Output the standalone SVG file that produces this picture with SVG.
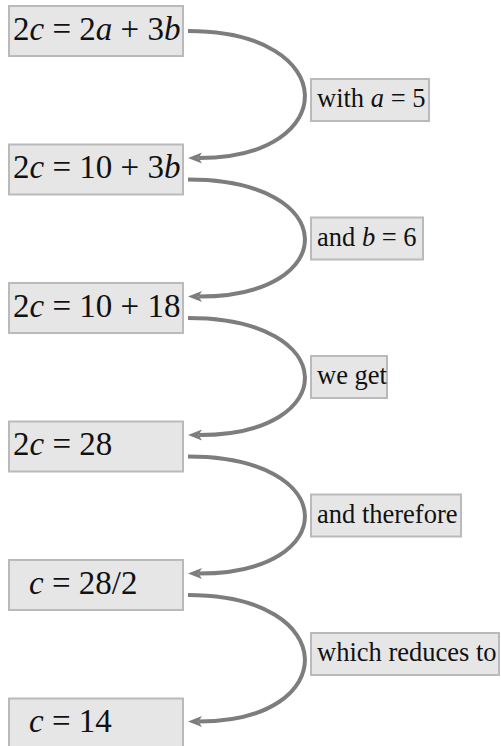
<svg xmlns="http://www.w3.org/2000/svg" width="501" height="746" viewBox="0 0 501 746">
<style>
.box{fill:#e6e6e6;stroke:#bababa;stroke-width:2}
.main{font-family:"Liberation Serif","Times New Roman",serif;font-size:33px;fill:#111}
.lab{font-family:"Liberation Serif","Times New Roman",serif;font-size:26.5px;fill:#111}
.i{font-style:italic}
.edge{fill:none;stroke:#7d7d7d;stroke-width:4}
</style>
<defs>
<marker id="arr" markerUnits="userSpaceOnUse" markerWidth="16" markerHeight="13" viewBox="0 0 16 13" refX="4" refY="6.5" orient="auto">
<path d="M1,1 L15,6.5 L1,12 L4.5,6.5 z" fill="#7d7d7d"/>
</marker>
</defs>
<rect width="501" height="746" fill="#ffffff"/>
<g id="connectors">
<path class="edge" marker-end="url(#arr)" d="M188,31 C342,31 342,158 199,158"/>
<path class="edge" marker-end="url(#arr)" d="M188,179.5 C342,179.5 342,296.5 199,296.5"/>
<path class="edge" marker-end="url(#arr)" d="M188,318 C342,318 342,435 199,435"/>
<path class="edge" marker-end="url(#arr)" d="M188,456.5 C342,456.5 342,573.5 199,573.5"/>
<path class="edge" marker-end="url(#arr)" d="M188,595 C342,595 342,721.5 199,721.5"/>
</g>
<g id="n1"><rect class="box" x="9" y="6" width="174" height="50"/><text class="main" x="13" y="39.5">2<tspan class="i">c</tspan> = 2<tspan class="i">a</tspan> + 3<tspan class="i">b</tspan></text></g>
<g id="n2"><rect class="box" x="9" y="144.5" width="174" height="50"/><text class="main" x="13" y="178">2<tspan class="i">c</tspan> = 10 + 3<tspan class="i">b</tspan></text></g>
<g id="n3"><rect class="box" x="9" y="283" width="174" height="50"/><text class="main" x="13" y="316.5">2<tspan class="i">c</tspan> = 10 + 18</text></g>
<g id="n4"><rect class="box" x="9" y="421.5" width="174" height="50"/><text class="main" x="13" y="455">2<tspan class="i">c</tspan> = 28</text></g>
<g id="n5"><rect class="box" x="9" y="560" width="174" height="50"/><text class="main" x="29" y="593.5"><tspan class="i">c</tspan> = 28/2</text></g>
<g id="n6"><rect class="box" x="9" y="698.5" width="174" height="50"/><text class="main" x="29" y="732"><tspan class="i">c</tspan> = 14</text></g>
<g id="l1"><rect class="box" x="311" y="79" width="118" height="42"/><text class="lab" x="317" y="107">with <tspan class="i">a</tspan> = 5</text></g>
<g id="l2"><rect class="box" x="311" y="217.5" width="112" height="42"/><text class="lab" x="317" y="245.5">and <tspan class="i">b</tspan> = 6</text></g>
<g id="l3"><rect class="box" x="311" y="356" width="76" height="42"/><text class="lab" x="317" y="384">we get</text></g>
<g id="l4"><rect class="box" x="311" y="494.5" width="150" height="42"/><text class="lab" x="317" y="522.5">and therefore</text></g>
<g id="l5"><rect class="box" x="311" y="633" width="188" height="42"/><text class="lab" x="317" y="661">which reduces to</text></g>
</svg>
